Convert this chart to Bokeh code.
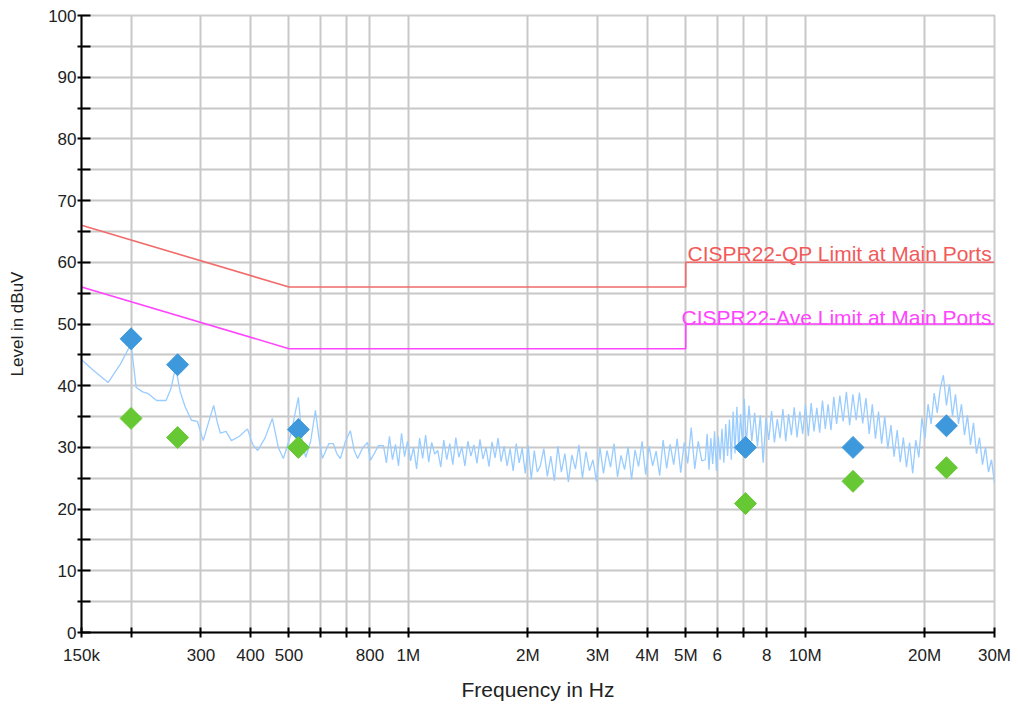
import numpy as np
from bokeh.plotting import figure
from bokeh.models import Range1d, FixedTicker, Label
from bokeh.embed import file_html
from bokeh.resources import INLINE

# ---------------- data ----------------
x_ticks = [150e3, 200e3, 300e3, 400e3, 500e3, 600e3, 700e3, 800e3, 1e6,
           2e6, 3e6, 4e6, 5e6, 6e6, 7e6, 8e6, 10e6, 20e6, 30e6]
x_tick_labels = ["150k", "", "300", "400", "500", "", "", "800", "1M",
                 "2M", "3M", "4M", "5M", "6", "", "8", "10M", "20M", "30M"]
y_ticks = list(range(0, 105, 5))
y_tick_labels = [str(v) if v % 10 == 0 else "" for v in y_ticks]

# limit lines (Hz, dBuV)
qp_freq = [150e3, 500e3, 5e6, 5e6, 30e6]
qp_level = [66, 56, 56, 60, 60]
ave_freq = [150e3, 500e3, 5e6, 5e6, 30e6]
ave_level = [56, 46, 46, 50, 50]
limit_names = ["CISPR22-QP Limit at Main Ports", "CISPR22-Ave Limit at Main Ports"]

# measured final points
qp_pts_freq = [200e3, 262e3, 528e3, 7.07e6, 13.2e6, 22.7e6]
qp_pts_level = [47.6, 43.4, 32.9, 30.0, 30.0, 33.5]
av_pts_freq = [200e3, 262e3, 528e3, 7.07e6, 13.2e6, 22.7e6]
av_pts_level = [34.7, 31.6, 30.0, 20.9, 24.5, 26.7]

# pre-scan trace, low band (kHz, dBuV)
low_freq_khz = [150, 162, 175, 188, 200, 206, 214, 221, 232, 245, 252, 259, 266,
                274, 284, 294, 304, 315, 323, 330, 336, 347, 358, 375, 393, 405,
                417, 435, 454, 470, 484, 505, 528, 540, 551, 567, 583, 595, 607,
                630, 647, 660, 674, 694, 714, 730, 745, 768, 789, 802, 820, 841]
low_level = [44.2, 42.3, 40.5, 43.5, 46.8, 39.7, 39.0, 38.7, 37.6, 37.6, 39.5, 43.0, 39.0,
             36.5, 34.4, 34.2, 31.1, 34.5, 36.8, 34.0, 32.3, 32.6, 31.1, 31.8, 33.0, 30.5,
             29.5, 31.5, 34.7, 30.0, 28.2, 32.0, 38.1, 31.0, 28.4, 31.0, 36.0, 31.5, 28.2,
             30.6, 30.6, 29.0, 28.2, 31.0, 32.7, 29.5, 28.2, 30.0, 30.8, 27.9, 29.0, 30.3]

# pre-scan trace, noisy band: segment edges (Hz) and levels read per segment
seg_edges = [865e3, 2.15e6, 5.6e6, 7.1e6, 12e6, 14.5e6, 19e6, 22.7e6, 30e6]
seg_levels = [
    [30.3, 27.5, 31.8, 28.0, 30.5, 27.0, 32.3, 28.5, 31.0, 27.8, 30.0, 26.5, 31.5,
     28.2, 32.0, 27.6, 30.8, 28.9, 29.5, 26.8, 31.2, 28.0, 30.6, 27.2, 31.6, 28.4,
     30.1, 27.0, 31.0, 28.6, 30.4, 27.4, 31.3, 28.1, 30.0, 26.9, 30.9, 28.3, 31.5,
     27.7, 30.2, 27.0, 29.8, 26.2, 30.6, 27.5, 29.9, 25.8, 30.3, 24.8, 29.5, 26.0],
    [27.0, 29.8, 25.3, 28.6, 24.6, 30.2, 26.0, 29.0, 24.4, 28.8, 26.5, 30.4, 25.0,
     29.3, 26.2, 28.0, 24.5, 30.0, 25.8, 29.5, 26.8, 30.6, 25.2, 28.7, 26.4, 30.1,
     24.8, 29.6, 26.9, 31.0, 25.6, 30.2, 27.0, 29.4, 25.4, 31.2, 26.6, 30.5, 27.2,
     31.4, 25.9, 30.8, 27.4, 33.2, 26.5, 31.0, 27.8],
    [28.0, 32.2, 26.4, 31.5, 27.3, 32.6, 26.2, 31.8, 28.0, 33.0, 27.5, 33.8, 28.6,
     34.5, 28.0, 35.8, 29.0, 36.6, 29.6, 35.4, 30.2, 37.9],
    [30.4, 36.8, 31.0, 35.6, 30.2, 35.2, 27.5, 34.8, 31.2, 35.9, 30.8, 34.6, 31.5,
     36.2, 31.0, 35.4, 32.0, 36.5, 31.6, 35.8, 32.2, 36.9, 31.8, 37.2, 32.6, 36.4,
     32.4, 37.6, 33.0, 37.0, 32.8, 38.2],
    [33.8, 38.4, 34.2, 39.0, 33.6, 38.6, 34.4, 38.9, 33.9, 38.0],
    [32.2, 37.0, 31.4, 35.8, 30.6, 35.0, 29.8, 33.6, 28.5, 32.8, 27.6, 31.6, 26.8,
     30.8, 25.8],
    [31.2, 28.4, 34.8, 31.5, 37.0, 33.8, 38.8, 35.6, 39.6, 41.7],
    [36.8, 40.2, 35.0, 38.6, 33.8, 37.0, 32.0, 35.2, 30.4, 34.0, 29.0, 31.6, 27.2,
     30.0, 26.0, 28.0, 24.2],
]

# build trace (sample grid within each segment, log spaced like the display)
trace_f = [f * 1e3 for f in low_freq_khz]
trace_l = list(low_level)
for i, lv in enumerate(seg_levels):
    last = i == len(seg_levels) - 1
    fs = np.geomspace(seg_edges[i], seg_edges[i + 1], len(lv), endpoint=last)
    trace_f.extend(fs.tolist())
    trace_l.extend(lv)

# ---------------- figure ----------------
FONT = "Liberation Sans"
p = figure(x_axis_type="log", x_range=Range1d(150e3, 30e6), y_range=Range1d(0, 100),
           frame_width=913, frame_height=617,
           min_border_left=81, min_border_right=20, min_border_top=15, min_border_bottom=66,
           output_backend="svg", toolbar_location=None,
           background_fill_color="white", border_fill_color="white")

p.outline_line_color = "#cccccc"
p.outline_line_width = 2

for g in (p.xgrid, p.ygrid):
    g.grid_line_color = "#c8c8c8"
    g.grid_line_width = 2

p.xaxis.ticker = FixedTicker(ticks=x_ticks, minor_ticks=[])
p.xaxis.major_label_overrides = {t: l for t, l in zip(x_ticks, x_tick_labels)}
p.yaxis.ticker = FixedTicker(ticks=y_ticks, minor_ticks=[])
p.yaxis.major_label_overrides = {t: l for t, l in zip(y_ticks, y_tick_labels)}

for ax in (p.xaxis, p.yaxis):
    ax.axis_line_color = "black"
    ax.axis_line_width = 2
    ax.major_tick_line_color = "black"
    ax.major_tick_line_width = 2
    ax.minor_tick_line_color = None
    ax.major_label_text_font = FONT
    ax.major_label_text_font_size = "17px"
    ax.major_label_text_color = "#222222"
    ax.axis_label_text_font = FONT
    ax.axis_label_text_font_style = "normal"
    ax.axis_label_text_color = "#222222"

p.xaxis.major_tick_in = 5
p.xaxis.major_tick_out = 5
p.xaxis.major_label_standoff = 8
p.xaxis.axis_label = "Frequency in Hz"
p.xaxis.axis_label_text_font_size = "21px"
p.xaxis.axis_label_standoff = 10

p.yaxis.major_tick_in = 9
p.yaxis.major_tick_out = 4
p.yaxis.major_label_standoff = 1
p.yaxis.axis_label = "Level in dBuV"
p.yaxis.axis_label_text_font_size = "17px"
p.yaxis.axis_label_standoff = 18

# trace
p.line(trace_f, trace_l, line_color="#99ccff", line_width=1.3)

# limits
p.line(qp_freq, qp_level, line_color="#f26b6b", line_width=1.6)
p.line(ave_freq, ave_level, line_color="#ff44ff", line_width=1.6)

p.add_layout(Label(x=5.05e6, y=61.4, text=limit_names[0],
                   text_font=FONT, text_font_size="21px", text_color="#f25a5a",
                   text_baseline="alphabetic", text_align="left"))
p.add_layout(Label(x=4.88e6, y=51.1, text=limit_names[1],
                   text_font=FONT, text_font_size="21px", text_color="#ff44ff",
                   text_baseline="alphabetic", text_align="left"))

# final points
p.scatter(qp_pts_freq, qp_pts_level, marker="square", size=15.5, angle=np.pi / 4,
          fill_color="#3d98dc", line_color="#3d98dc")
p.scatter(av_pts_freq, av_pts_level, marker="square", size=15.5, angle=np.pi / 4,
          fill_color="#66c833", line_color="#66c833")

open("out.html", "w").write(file_html(p, INLINE))
